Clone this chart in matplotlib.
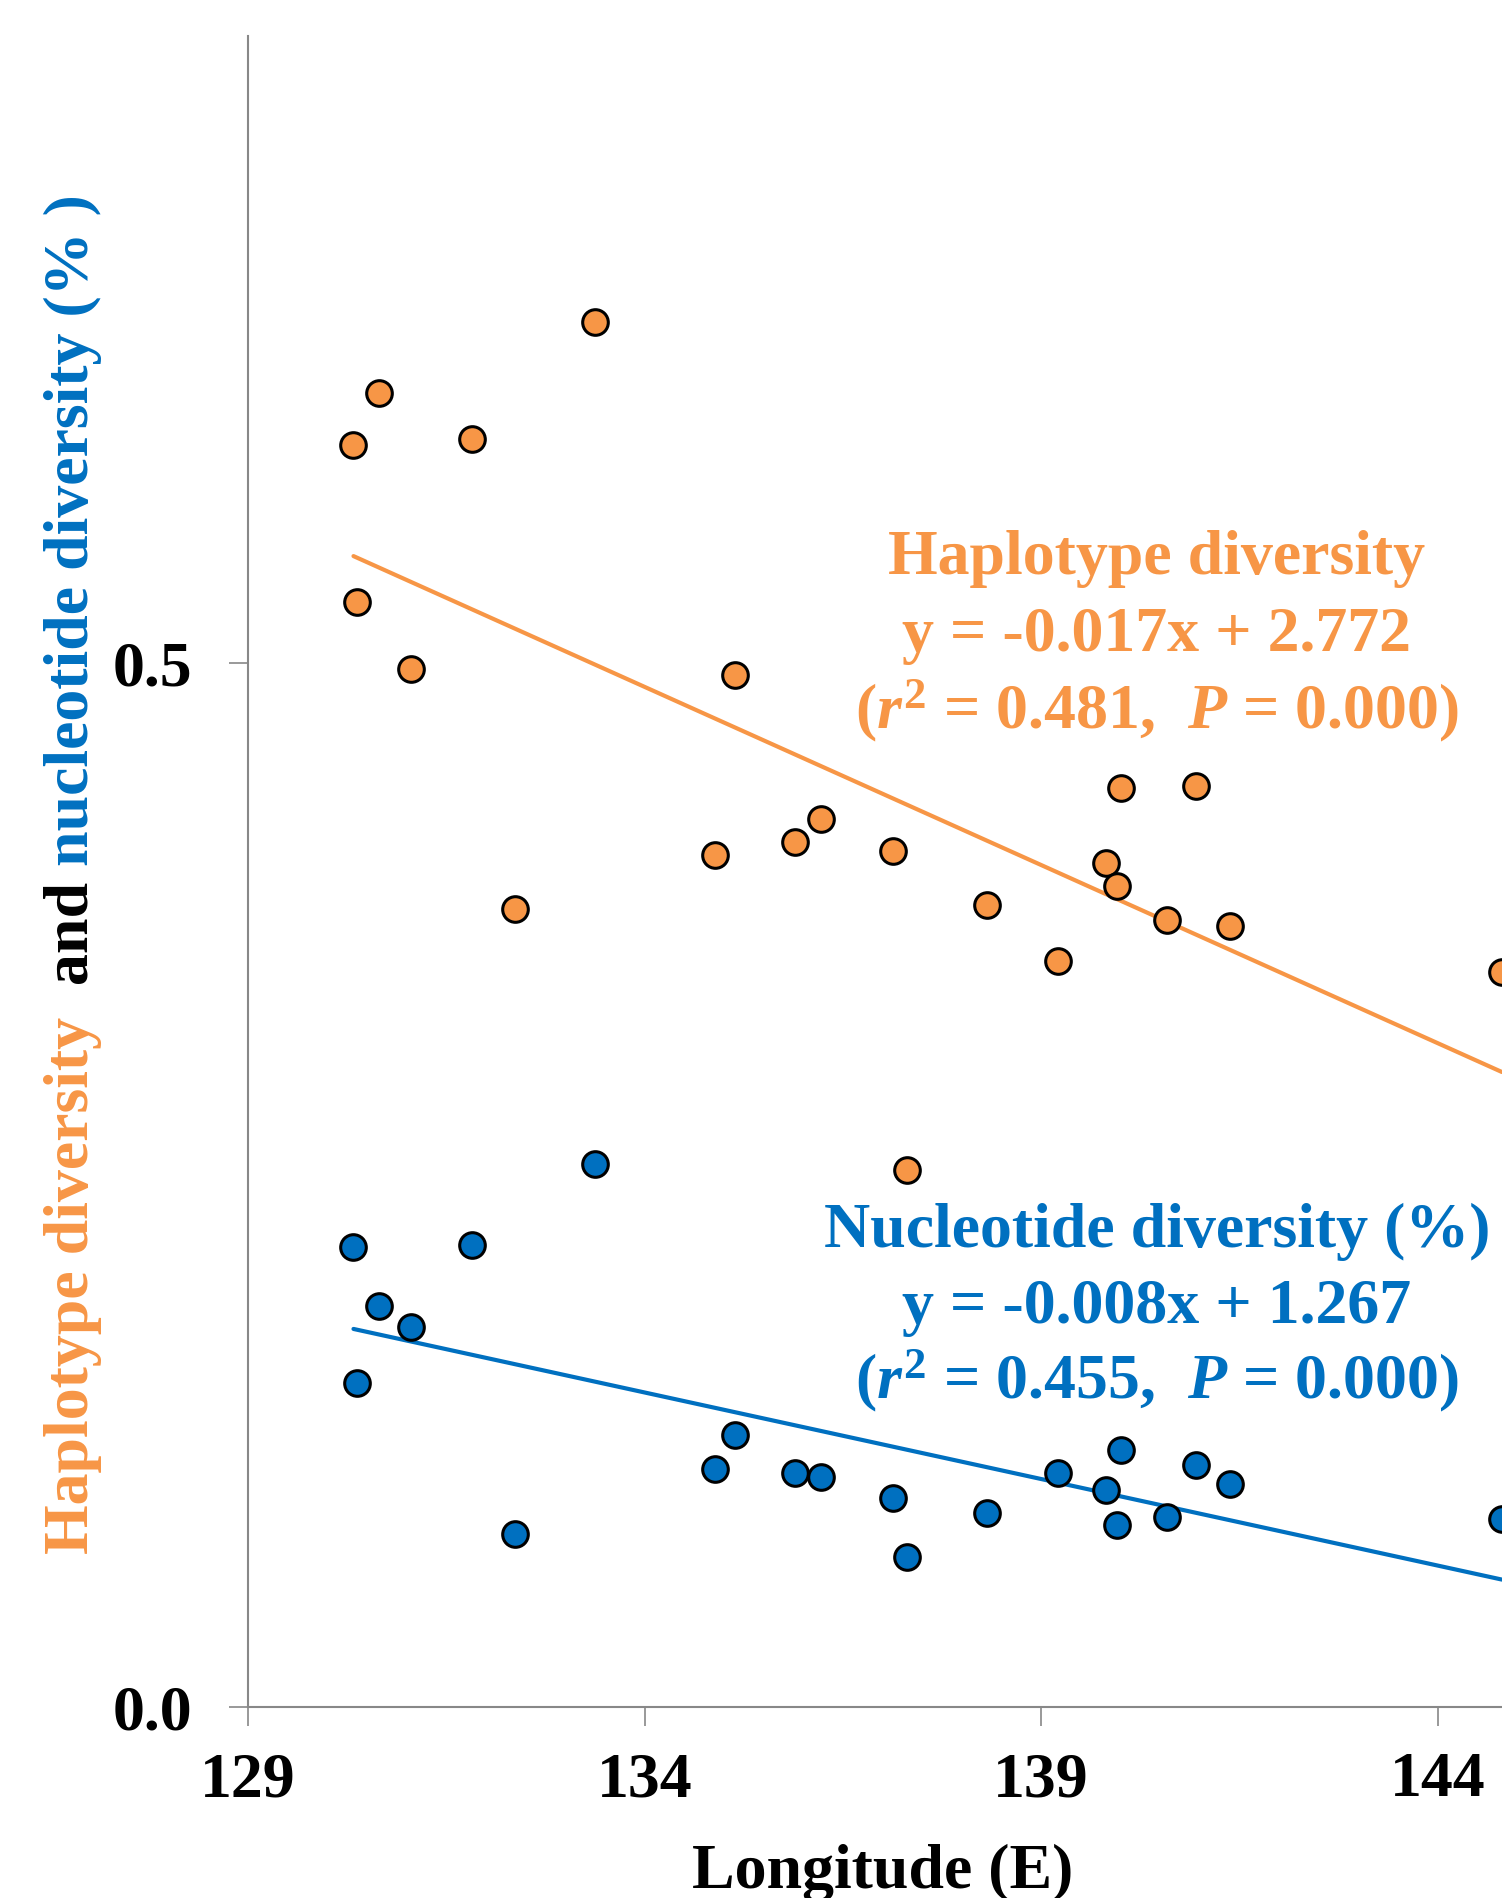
import matplotlib
matplotlib.use("Agg")
import matplotlib.pyplot as plt
import numpy as np

plt.rcParams["font.family"] = ["Liberation Serif", "DejaVu Serif"]
plt.rcParams["font.weight"] = "bold"
plt.rcParams["mathtext.fontset"] = "custom"
plt.rcParams["mathtext.rm"] = "Liberation Serif:bold"
plt.rcParams["mathtext.bf"] = "Liberation Serif:bold"
plt.rcParams["mathtext.it"] = "Liberation Serif:italic:bold"

ORANGE = "#F79646"
BLUE = "#0070C0"
GREY = "#888888"

# sampling sites, longitude (E)
longitude = [130.33, 130.65, 130.38, 131.05, 131.82, 132.37, 133.38, 134.89, 135.14, 135.90, 136.22,
             137.13, 137.31, 138.32, 139.21, 139.82, 139.96, 140.01, 140.59, 140.95, 141.38, 144.81]
haplotype_div = [0.604, 0.629, 0.529, 0.497, 0.607, 0.382, 0.663, 0.408, 0.494, 0.414, 0.425,
                 0.410, 0.257, 0.384, 0.357, 0.404, 0.393, 0.440, 0.377, 0.441, 0.374, 0.352]
nucleotide_div = [0.220, 0.192, 0.155, 0.182, 0.221, 0.083, 0.260, 0.114, 0.130, 0.112, 0.110,
                  0.100, 0.072, 0.093, 0.112, 0.104, 0.087, 0.123, 0.091, 0.116, 0.107, 0.090]

# linear trend lines (ends)
trend_x = [130.33, 144.81]
haplotype_trend = [0.551, 0.304]
nucleotide_trend = [0.181, 0.061]

haplotype_note = ["Haplotype diversity", "y = -0.017x + 2.772", "($r^2$ = 0.481,  $P$ = 0.000)"]
nucleotide_note = ["Nucleotide diversity (%)", "y = -0.008x + 1.267", "($r^2$ = 0.455,  $P$ = 0.000)"]

ylabel_parts = [("Haplotype diversity", ORANGE), ("  and", "black"), (" nucleotide diversity (% )", BLUE)]

W, H = 1502, 1899
fig = plt.figure(figsize=(W / 100, H / 100), dpi=100)
ax = fig.add_axes([248 / W, (H - 1708) / H, 1269 / W, (1708 - 37) / H])

ax.plot(trend_x, haplotype_trend, color=ORANGE, lw=3, solid_capstyle="round", zorder=2)
ax.plot(trend_x, nucleotide_trend, color=BLUE, lw=3, solid_capstyle="round", zorder=2)
ax.scatter(longitude, haplotype_div, s=340, c=ORANGE, edgecolors="black", linewidths=2.2, zorder=3, clip_on=False)
ax.scatter(longitude, nucleotide_div, s=340, c=BLUE, edgecolors="black", linewidths=2.2, zorder=3, clip_on=False)

ax.set_xlim(129, 145)
ax.set_ylim(0, 0.8)
ax.set_xticks([129, 134, 139, 144])
ax.set_yticks([0.0, 0.5])
ax.set_yticklabels(["0.0", "0.5"])
for side in ["top", "right"]:
    ax.spines[side].set_visible(False)
for side in ["left", "bottom"]:
    ax.spines[side].set_color(GREY)
    ax.spines[side].set_linewidth(1.5)
ax.tick_params(axis="x", length=14, width=1.2, color=GREY, pad=18, labelsize=46)
ax.tick_params(axis="y", length=14, width=1.2, color=GREY, pad=26, labelsize=46)
ax.set_xlabel("Longitude (E)", fontsize=46, fontweight="bold", labelpad=24)

# regression notes, one line at a time (baselines in pixels from the top)
note_x = 140.46
for lines, color, baselines in [(haplotype_note, ORANGE, [573, 650, 727]),
                                (nucleotide_note, BLUE, [1247, 1323, 1398])]:
    for line, py in zip(lines, baselines):
        ax.text(note_x, (1708 - py) / 2091, line, color=color, fontsize=46, fontweight="bold",
                ha="center", va="baseline")

# multi-colour rotated y label, stacked from the bottom
fig.canvas.draw()
renderer = fig.canvas.get_renderer()
y_pos = (H - 1554) / H
for text, color in ylabel_parts:
    t = fig.text(73 / W, y_pos, text, rotation=90, color=color, fontsize=46, fontweight="bold",
                 ha="center", va="bottom")
    bb = t.get_window_extent(renderer)
    y_pos = bb.y1 / fig.bbox.height

fig.savefig("out.png", dpi=100)
